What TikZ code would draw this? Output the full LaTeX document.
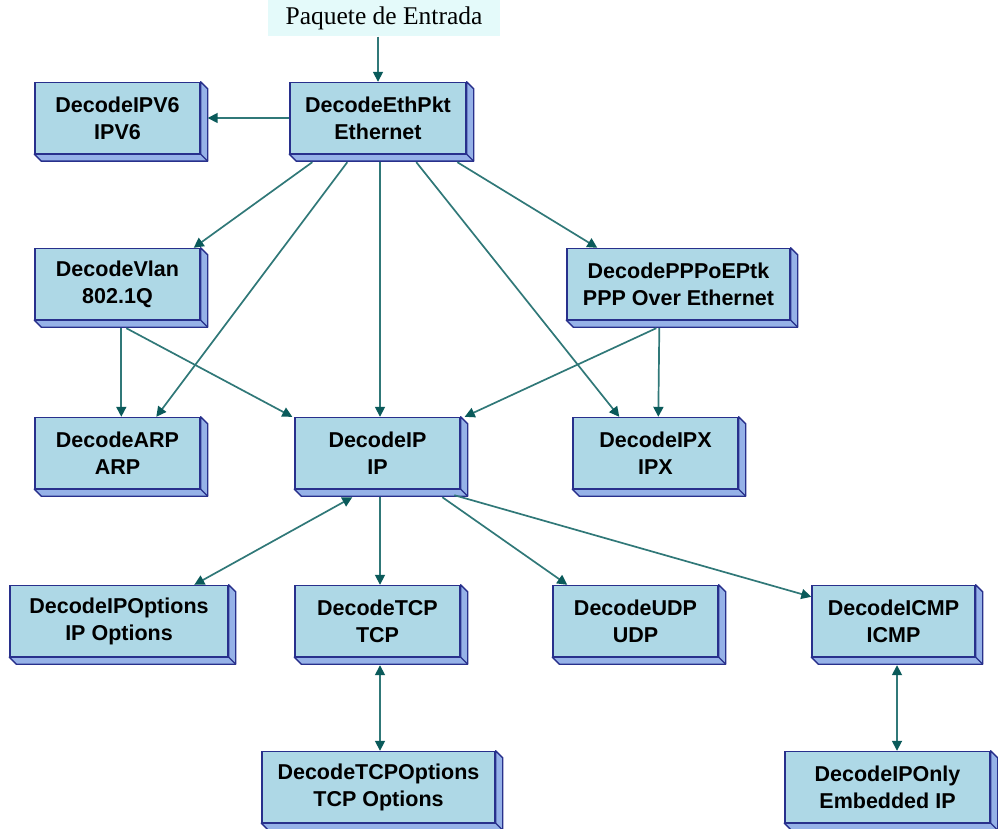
\documentclass[tikz,border=0pt]{standalone}
\usepackage{fontspec}
\setmainfont{Liberation Sans}
\newfontfamily\titlefont{Liberation Serif}
\usetikzlibrary{calc,arrows.meta}
\definecolor{boxfill}{RGB}{174,216,230}
\definecolor{boxside}{RGB}{150,178,232}
\definecolor{boxline}{RGB}{40,48,140}
\definecolor{arrc}{RGB}{48,120,120}
\definecolor{arrhead}{RGB}{10,90,90}
\definecolor{titlebg}{RGB}{228,250,250}
\tikzset{
  box/.style={draw=boxline, fill=boxfill, line width=1.4pt, minimum height=71pt,
    inner sep=0pt, align=center, font=\bfseries\fontsize{21.5}{27}\selectfont},
  tip/.tip={Triangle[length=10pt,width=10pt,color=arrhead]},
  arr/.style={draw=arrc, line width=1.7pt, -tip},
  darr/.style={draw=arrc, line width=1.7pt, tip-tip},
}
\newcommand{\depthbox}[1]{%
  \filldraw[fill=boxside, draw=boxline, line width=1.4pt, line join=round]
    (#1.north east) -- ($(#1.north east)+(7,7)$) -- ($(#1.south east)+(7,7)$)
    -- ($(#1.south west)+(7,7)$) -- (#1.south west) -- (#1.south east) -- cycle;
  \draw[boxline, line width=1.4pt] (#1.south east) -- ($(#1.south east)+(7,7)$);
}
\begin{document}
\begin{tikzpicture}[x=1pt,y=-1pt]
\useasboundingbox (0,0) rectangle (998,829);
% title
\node[fill=titlebg, minimum width=232pt, minimum height=37pt, inner sep=0pt,
  font=\titlefont\fontsize{25.5}{28}\selectfont] (title) at (384,18) {Paquete de Entrada};
% boxes
\node[box, minimum width=165pt] (ipv6) at (117.5,118) {DecodeIPV6\\IPV6};
\node[box, minimum width=176pt] (eth) at (378,118) {DecodeEthPkt\\Ethernet};
\node[box, minimum width=165pt] (vlan) at (117.5,284) {DecodeVlan\\802.1Q};
\node[box, minimum width=223pt] (pppoe) at (678.5,284) {DecodePPPoEPtk\\PPP Over Ethernet};
\node[box, minimum width=165pt] (arp) at (117.5,453) {DecodeARP\\ARP};
\node[box, minimum width=165pt] (ip) at (377.5,453) {DecodeIP\\IP};
\node[box, minimum width=165pt] (ipx) at (655.5,453) {DecodeIPX\\IPX};
\node[box, minimum width=218pt] (ipopt) at (119,621) {DecodeIPOptions\\IP Options};
\node[box, minimum width=165pt] (tcp) at (377.5,621) {DecodeTCP\\TCP};
\node[box, minimum width=165pt] (udp) at (635.5,621) {DecodeUDP\\UDP};
\node[box, minimum width=163pt] (icmp) at (893.5,621) {DecodeICMP\\ICMP};
\node[box, minimum width=233pt] (tcpopt) at (378.5,787) {DecodeTCPOptions\\TCP Options};
\node[box, minimum width=205pt] (iponly) at (887.5,787) {DecodeIPOnly\\Embedded IP};
\foreach \n in {ipv6,eth,vlan,pppoe,arp,ip,ipx,ipopt,tcp,udp,icmp,tcpopt,iponly}{\depthbox{\n}}
% connectors
\draw[arr] (title.south -| eth.north) -- (eth.north);
\draw[arr] (eth.west) -- ($(ipv6.east)+(7,0)$);
\draw[arr] ($(eth.south west)+(23,8)$) -- ($(vlan.north east)+(-7,0)$);
\draw[arr] ($(eth.south west)+(58,8)$) -- ($(arp.north west)+(122,0)$);
\draw[arr] ($(eth.south)+(2,8)$) -- ($(ip.north)+(2.5,0)$);
\draw[arr] ($(eth.south west)+(127,8)$) -- ($(ipx.north west)+(47,0)$);
\draw[arr] ($(eth.south west)+(168,8)$) -- ($(pppoe.north west)+(31,0)$);
\draw[arr] ($(vlan.south west)+(87,8)$) -- ($(arp.north west)+(87,0)$);
\draw[arr] ($(vlan.south west)+(92,8)$) -- ($(ip.north west)+(-2,0)$);
\draw[arr] ($(pppoe.south west)+(90,8)$) -- ($(ip.north east)+(4,0)$);
\draw[arr] ($(pppoe.south west)+(93,8)$) -- ($(ipx.north west)+(86,0)$);
\draw[darr] ($(ip.south west)+(58,8)$) -- ($(ipopt.north west)+(185,0)$);
\draw[arr] ($(ip.south)+(2.5,8)$) -- ($(tcp.north)+(2.5,0)$);
\draw[arr] ($(ip.south west)+(148,8)$) -- ($(udp.north west)+(15,0)$);
\draw[arr] ($(ip.south west)+(160,6)$) -- ($(icmp.north west)+(0,12)$);
\draw[darr] ($(tcp.south)+(2.5,8)$) -- ($(tcpopt.north)+(1.5,0)$);
\draw[darr] ($(icmp.south)+(3.5,8)$) -- ($(iponly.north)+(9.5,0)$);
\end{tikzpicture}
\end{document}
